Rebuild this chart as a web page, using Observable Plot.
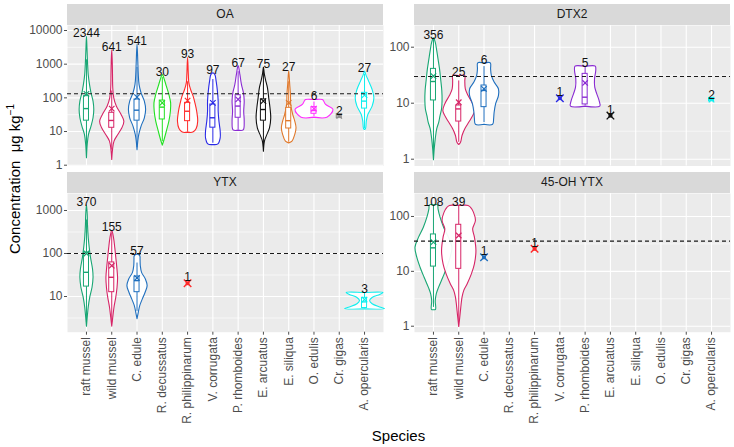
<!DOCTYPE html>
<html><head><meta charset="utf-8">
<script src="https://cdn.jsdelivr.net/npm/d3@7"></script>
<script src="https://cdn.jsdelivr.net/npm/@observablehq/plot@0.6"></script>
<style>
body{margin:0;background:#fff;font-family:"Liberation Sans",Arial,sans-serif;}
#chart{position:relative;width:734px;height:447px;overflow:hidden;background:#fff;}
#chart svg{position:absolute;}
.strip{position:absolute;background:#D9D9D9;color:#1A1A1A;font-size:12px;text-align:center;line-height:21px;height:21px;}
</style></head><body><div id="chart"></div>
<script>
const species = ["raft mussel","wild mussel","C. edule","R. decussatus","R. philippinarum","V. corrugata","P. rhomboides","E. arcuatus","E. siliqua","O. edulis","Cr. gigas","A. opercularis"];
const speciesColors = ["#17A673","#D62466","#1F6FBE","#22E022","#FF2A2A","#2A2AE6","#8A2BD2","#111111","#E0782A","#FF2BFF","#8C8C8C","#10EEEE"];
const facetNames = ["OA","DTX2","YTX","45-OH YTX"];
const limitValues = [132, 30, 100, 35.5];

// violin profiles: [concentration, half width in category units]
const oaViolins = [
 ["raft mussel", [[1.66,0],[4.1,0.03],[8.2,0.08],[14.5,0.18],[25.6,0.26],[45,0.29],[80,0.26],[141,0.18],[251,0.12],[490,0.07],[1230,0.04],[3020,0.02],[6760,0]]],
 ["wild mussel", [[1.48,0],[2.9,0.03],[5.2,0.09],[8.2,0.24],[12.9,0.40],[20.3,0.48],[32,0.37],[57,0.18],[100,0.08],[199,0.04],[494,0.03],[1230,0.02],[2720,0]]],
 ["C. edule", [[2.9,0],[5.2,0.03],[8.2,0.07],[14.5,0.16],[25.6,0.29],[45,0.34],[80,0.29],[141,0.16],[251,0.08],[490,0.05],[1230,0.03],[4000,0]]],
 ["R. decussatus", [[3.95,0],[5.8,0.07],[10.3,0.16],[20.3,0.26],[40,0.32],[71,0.33],[126,0.26],[222,0.16],[351,0.08],[490,0]]],
 ["R. philippinarum", [[9.6,0],[9.6,0.21],[12.3,0.34],[20.3,0.40],[40,0.36],[71,0.29],[112,0.22],[177,0.12],[279,0.05],[490,0.03],[1610,0]]],
 ["V. corrugata", [[4.1,0],[4.3,0.2],[6.5,0.29],[10.3,0.29],[20.3,0.24],[40,0.21],[80,0.21],[158,0.18],[313,0.13],[490,0.08],[553,0]]],
 ["P. rhomboides", [[11,0],[11.2,0.2],[20.3,0.24],[40,0.22],[80,0.24],[141,0.21],[251,0.13],[490,0.07],[910,0]]],
 ["E. arcuatus", [[2.6,0],[5.2,0.04],[7.3,0.11],[12.9,0.24],[25.6,0.29],[50.6,0.26],[100,0.21],[199,0.16],[351,0.08],[553,0.03],[815,0]]],
 ["E. siliqua", [[4.6,0],[5.2,0.13],[8.2,0.24],[12.9,0.29],[20.3,0.24],[32,0.16],[63.5,0.08],[126,0.07],[251,0.04],[650,0]]],
 ["O. edulis", [[26.7,0],[26.7,0.51],[45,0.75],[63.5,0.46],[83.6,0.37],[89.5,0.33],[89.5,0]]],
 ["A. opercularis", [[11.5,0],[12.3,0.04],[20.3,0.07],[32,0.13],[57,0.3],[100,0.37],[177,0.3],[313,0.16],[490,0.05],[620,0]]]
];
const dtx2Violins = [
 ["raft mussel", [[0.98,0],[1.53,0.03],[2.31,0.07],[3.5,0.13],[4.6,0.21],[6.0,0.26],[7.9,0.32],[11.2,0.34],[16.9,0.33],[25.4,0.29],[41,0.24],[62,0.18],[87,0.13],[123,0.07],[147,0]]],
 ["wild mussel", [[1.83,0],[2.0,0.07],[2.65,0.13],[3.5,0.24],[4.6,0.40],[6.0,0.55],[7.4,0.63],[9.8,0.55],[13.7,0.37],[18,0.26],[25.4,0.24],[31.3,0.24],[31.3,0]]],
 ["C. edule", [[4.2,0],[4.2,0.34],[5.3,0.38],[6.9,0.40],[9.8,0.46],[13.7,0.57],[18.1,0.57],[23.8,0.40],[31.3,0.29],[41,0.26],[52.6,0.25],[52.6,0]]],
 ["P. rhomboides", [[8.85,0],[8.85,0.58],[11.2,0.55],[14.7,0.46],[19.3,0.38],[27.2,0.37],[38.4,0.42],[45.8,0.40],[45.8,0]]]
];
const ytxViolins = [
 ["raft mussel", [[2.03,0],[3.3,0.03],[5.7,0.07],[9.7,0.13],[16.4,0.22],[28,0.26],[43.5,0.24],[81,0.16],[137,0.11],[234,0.07],[475,0.04],[809,0.03],[1375,0]]],
 ["wild mussel", [[2.03,0],[3.3,0.04],[5.7,0.09],[9.7,0.16],[16.4,0.21],[28,0.23],[47.5,0.20],[81,0.16],[137,0.12],[234,0.07],[345,0]]],
 ["C. edule", [[3.05,0],[4.3,0.05],[6.2,0.11],[8.8,0.21],[12.6,0.32],[17.9,0.40],[25.6,0.33],[36.5,0.18],[52,0.13],[74,0.12],[88,0.11],[96.5,0]]],
 ["A. opercularis", [[5.2,0],[5.2,0.79],[5.7,0.6],[6.8,0.3],[8.1,0.2],[9.5,0.3],[11.2,0.6],[12.4,0.73],[12.4,0]]]
];
const ohViolins = [
 ["raft mussel", [[2.0,0],[2.03,0.08],[2.9,0.07],[3.9,0.11],[5.1,0.20],[7.8,0.37],[11.9,0.53],[18.1,0.66],[27.6,0.73],[42,0.59],[63.8,0.40],[97,0.26],[138,0.18],[163,0.16],[163,0]]],
 ["wild mussel", [[0.985,0],[1.46,0.04],[2.2,0.08],[3.4,0.13],[4.5,0.20],[5.9,0.33],[9.0,0.5],[13.7,0.62],[24,0.68],[42,0.62],[59.6,0.55],[84.5,0.66],[120,0.58],[148,0.46],[159,0.37],[159,0]]]
];

// boxes: [species, lower whisker, q1, median, q3, upper whisker, mean]
const oaBoxes = [
 ["raft mussel",1.8,21,48,112,1350,132],["wild mussel",2.8,12.9,21.3,36,160,48],["C. edule",3.3,21,43,89,800,105],
 ["R. decussatus",5,22.8,53,83,400,71],["R. philippinarum",9.6,20.3,40,71,300,83],["V. corrugata",4.5,13,25.6,63.5,350,71],
 ["P. rhomboides",11,25.6,57,120,600,90],["E. arcuatus",3.5,21,45,90,600,80],["E. siliqua",4.8,12.3,21,50.6,300,71],
 ["O. edulis",28,33.6,42,53,75,48],["Cr. gigas",25,25,29,33,33,29],["A. opercularis",12,48,80,141,500,120]
];
const dtx2Boxes = [
 ["raft mussel",1.2,11.2,24.4,41,140,30.4],["wild mussel",2.0,4.7,7.9,9.1,25,10.4],["C. edule",4.5,8.5,16.9,20.7,45,18],
 ["P. rhomboides",9,9.5,12.8,33.4,45,23],["A. opercularis",10.8,10.8,11.6,12.4,12.4,11.6]
];
const ytxBoxes = [
 ["raft mussel",2.5,17,36.5,105,600,100],["wild mussel",2.5,12.6,28,62,300,52],["C. edule",4.5,12.6,23.4,29,60,27],
 ["A. opercularis",5.2,5.4,7.5,9.3,12,8.5]
];
const ohBoxes = [
 ["raft mussel",2.2,12.2,26.8,47,160,34],["wild mussel",1.2,11.1,35.5,70.5,159,45]
];

// single samples
const oaPoints = [];
const dtx2Points = [["V. corrugata",12.3],["E. arcuatus",6.0]];
const ytxPoints = [["R. philippinarum",20.3]];
const ohPoints = [["C. edule",18],["R. philippinarum",25.7]];

// sample counts
const oaCounts = [["raft mussel",2344],["wild mussel",641],["C. edule",541],["R. decussatus",30],["R. philippinarum",93],["V. corrugata",97],["P. rhomboides",67],["E. arcuatus",75],["E. siliqua",27],["O. edulis",6],["Cr. gigas",2],["A. opercularis",27]];
const dtx2Counts = [["raft mussel",356],["wild mussel",25],["C. edule",6],["V. corrugata",1],["P. rhomboides",5],["E. arcuatus",1],["A. opercularis",2]];
const ytxCounts = [["raft mussel",370],["wild mussel",155],["C. edule",57],["R. philippinarum",1],["A. opercularis",3]];
const ohCounts = [["raft mussel",108],["wild mussel",39],["C. edule",1],["R. philippinarum",1]];

// y axis ticks
const oaTicks = [1,10,100,1000,10000];
const dtx2Ticks = [1,10,100];
const ytxTicks = [10,100,1000];
const ohTicks = [1,10,100];

const chart = document.getElementById("chart");
const FONT = "Liberation Sans, Arial, sans-serif";

function panel(o) {
  const idx = s => species.indexOf(s);
  const outline = [];
  o.violins.forEach(([sp, prof]) => {
    const i = idx(sp);
    const pts = prof.map(([v, w]) => [i + w, v]).concat(prof.slice().reverse().map(([v, w]) => [i - w, v]));
    pts.forEach((p, k) => {
      const q = pts[k - 1];
      if (!q || q[0] !== p[0] || q[1] !== p[1]) outline.push({sp, x: p[0], y: p[1]});
    });
  });
  const boxRows = o.boxes.map(([sp, lo, q1, med, q3, hi, mean]) => ({sp, i: idx(sp), lo, q1, med, q3, hi, mean}));
  const pointRows = o.points.map(([sp, v]) => ({sp, i: idx(sp), v}));
  const topOf = sp => {
    const vi = o.violins.find(d => d[0] === sp);
    if (vi) return d3.max(vi[1], d => d[0]);
    const b = o.boxes.find(d => d[0] === sp);
    if (b) return b[5];
    return null;
  };
  const countRows = o.counts.filter(([sp]) => topOf(sp) != null).map(([sp, n]) => ({sp, i: idx(sp), n: String(n), v: topOf(sp)}));
  const pointCountRows = o.counts.filter(([sp]) => topOf(sp) == null).map(([sp, n]) => ({sp, i: idx(sp), n: String(n), v: o.points.find(d => d[0] === sp)[1]}));
  const minor = o.ticks.map(t => t * Math.sqrt(10)).concat([o.ticks[0] / Math.sqrt(10)]).filter(v => v > o.domain[0] && v < o.domain[1]);
  const mT = 8, mB = o.showX ? 110 : 8;
  const svg = Plot.plot({
    width: o.width, height: mT + o.panelH + mB,
    marginTop: mT, marginBottom: mB, marginLeft: o.marginLeft, marginRight: 0,
    style: {fontFamily: FONT, fontSize: "12px", background: "transparent", overflow: "visible"},
    x: {type: "linear", domain: [-0.75, 11.75], axis: null},
    y: {type: "log", domain: o.domain, axis: null},
    color: {domain: species, range: speciesColors},
    marks: [
      Plot.frame({fill: "#EBEBEB", stroke: "none"}),
      Plot.ruleY(minor, {stroke: "white", strokeWidth: 0.6}),
      Plot.ruleY(o.ticks, {stroke: "white", strokeWidth: 1.1}),
      Plot.ruleX(d3.range(12), {stroke: "white", strokeWidth: 1.1}),
      Plot.axisY(o.ticks, {anchor: "left", tickSize: 3, tickPadding: 2, tickFormat: d => String(d), color: "#4D4D4D", fontSize: 12, label: null}),
      o.showX ? Plot.axisX(d3.range(12), {anchor: "bottom", tickSize: 3, tickPadding: 2, tickRotate: -90, tickFormat: i => species[i], color: "#4D4D4D", fontSize: 12, label: null}) : null,
      Plot.line(outline, {x: "x", y: "y", z: "sp", stroke: "sp", fill: "white", fillOpacity: 0.93, strokeWidth: 1.1, curve: "catmull-rom"}),
      Plot.ruleX(boxRows, {x: "i", y1: "q3", y2: "hi", stroke: "sp", strokeWidth: 1}),
      Plot.ruleX(boxRows, {x: "i", y1: "lo", y2: "q1", stroke: "sp", strokeWidth: 1}),
      Plot.rect(boxRows, {x1: d => d.i - 0.1, x2: d => d.i + 0.1, y1: "q1", y2: "q3", stroke: "sp", fill: "white", strokeWidth: 1}),
      Plot.ruleY(boxRows, {y: "med", x1: d => d.i - 0.1, x2: d => d.i + 0.1, stroke: "sp", strokeWidth: 1.4}),
      Plot.dot(boxRows, {x: "i", y: "mean", symbol: "times", r: 2.6, stroke: "sp", strokeWidth: 1.2}),
      Plot.dot(pointRows, {x: "i", y: "v", symbol: "square", r: 2.2, fill: "sp"}),
      Plot.dot(pointRows, {x: "i", y: "v", symbol: "times", r: 3.5, stroke: "sp", strokeWidth: 1.4}),
      Plot.ruleY([o.limit], {stroke: "#1A1A1A", strokeWidth: 1.1, strokeDasharray: "4,3"}),
      Plot.text(countRows, {x: "i", y: "v", text: "n", lineAnchor: "bottom", dy: 1, fontSize: 12, fill: "#111"}),
      Plot.text(pointCountRows, {x: "i", y: "v", text: "n", lineAnchor: "bottom", dy: -2, fontSize: 12, fill: "#111"})
    ]
  });
  svg.style.left = o.left + "px";
  svg.style.top = (o.top - mT) + "px";
  chart.appendChild(svg);
  const strip = document.createElement("div");
  strip.className = "strip";
  strip.textContent = o.title;
  strip.style.left = (o.left + o.marginLeft) + "px";
  strip.style.top = (o.top - 21) + "px";
  strip.style.width = (o.width - o.marginLeft) + "px";
  chart.appendChild(strip);
}

panel({title: facetNames[0], violins: oaViolins, boxes: oaBoxes, points: oaPoints, counts: oaCounts, limit: limitValues[0],
  domain: [0.946, 14080], ticks: oaTicks, showX: false, left: 0, top: 25, width: 383, marginLeft: 67, panelH: 140.5});
panel({title: facetNames[1], violins: dtx2Violins, boxes: dtx2Boxes, points: dtx2Points, counts: dtx2Counts, limit: limitValues[1],
  domain: [0.756, 244], ticks: dtx2Ticks, showX: false, left: 350, top: 25, width: 380, marginLeft: 64, panelH: 140.5});
panel({title: facetNames[2], violins: ytxViolins, boxes: ytxBoxes, points: ytxPoints, counts: ytxCounts, limit: limitValues[2],
  domain: [1.48, 2483], ticks: ytxTicks, showX: true, left: 0, top: 193, width: 383, marginLeft: 67, panelH: 138.7});
panel({title: facetNames[3], violins: ohViolins, boxes: ohBoxes, points: ohPoints, counts: ohCounts, limit: limitValues[3],
  domain: [0.778, 262], ticks: ohTicks, showX: true, left: 350, top: 193, width: 380, marginLeft: 64, panelH: 138.7});

// axis titles
const ns = "http://www.w3.org/2000/svg";
const tsvg = document.createElementNS(ns, "svg");
tsvg.setAttribute("width", 734); tsvg.setAttribute("height", 447);
tsvg.style.left = "0px"; tsvg.style.top = "0px"; tsvg.style.pointerEvents = "none";
tsvg.innerHTML =
  `<text transform="translate(20,179) rotate(-90)" text-anchor="middle" font-family="${FONT}" font-size="15" fill="#000">Concentration\u00A0\u00A0μg kg<tspan dy="-6" font-size="10">−1</tspan></text>` +
  `<text x="398.5" y="441" text-anchor="middle" font-family="${FONT}" font-size="15" fill="#000">Species</text>`;
chart.appendChild(tsvg);
</script></body></html>
